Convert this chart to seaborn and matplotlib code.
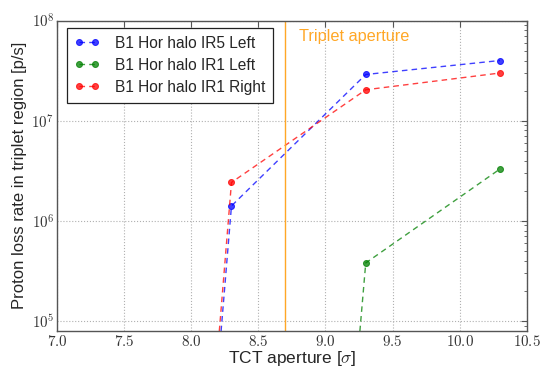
import numpy as np
import pandas as pd
import matplotlib
matplotlib.use("Agg")
import matplotlib.pyplot as plt
import seaborn as sns
from matplotlib.ticker import FixedLocator, FixedFormatter, LogLocator, NullFormatter

# ---- data ----
x_ir5_left = [7.3, 8.3, 9.3, 10.3]
y_ir5_left = [1e-10, 1.41e6, 2.9e7, 4.0e7]
x_ir1_left = [7.3, 8.3, 9.3, 10.3]
y_ir1_left = [1e-10, 1e-10, 3.8e5, 3.3e6]
x_ir1_right = [7.3, 8.3, 9.3, 10.3]
y_ir1_right = [1e-10, 2.42e6, 2.04e7, 3.0e7]
series_names = ["B1 Hor halo IR5 Left", "B1 Hor halo IR1 Left", "B1 Hor halo IR1 Right"]
series_colors = ["#0000ff", "#008000", "#ff0000"]
triplet_aperture = 8.7
x_ticks = [7.0, 7.5, 8.0, 8.5, 9.0, 9.5, 10.0, 10.5]
x_tick_labels = ["$7.0$", "$7.5$", "$8.0$", "$8.5$", "$9.0$", "$9.5$", "$10.0$", "$10.5$"]
y_ticks = [1e5, 1e6, 1e7, 1e8]
y_tick_labels = ["$10^{5}$", "$10^{6}$", "$10^{7}$", "$10^{8}$"]

sns.set_style("white")
plt.rcParams["font.family"] = ["Liberation Sans", "DejaVu Sans"]
plt.rcParams["mathtext.fontset"] = "cm"

fig = plt.figure(figsize=(5.4, 3.69), dpi=100)
ax = fig.add_axes([0.1054, 0.103, 0.8703, 0.841])
ax.set_yscale("log")

xs = [x_ir5_left, x_ir1_left, x_ir1_right]
ys = [y_ir5_left, y_ir1_left, y_ir1_right]
for name, c, xv, yv in zip(series_names, series_colors, xs, ys):
    df = pd.DataFrame({"x": xv, "y": yv})
    sns.lineplot(data=df, x="x", y="y", ax=ax, color=c, lw=1.0,
                 dashes=False, errorbar=None, label=name)
    line = ax.get_lines()[-1]
    line.set_dashes((4, 3))
    line.set_alpha(0.75)
    line.set_marker("o")
    line.set_markersize(4.3)
    line.set_markerfacecolor(c)
    line.set_markeredgecolor(c)

ax.axvline(triplet_aperture, color="#ffa726", lw=1.0)
ax.text(8.80, 6.9e7, "Triplet aperture", color="#ffa726",
        fontsize=11.7, va="center", ha="left")

ax.set_xlim(7.0, 10.5)
ax.set_ylim(10**4.9, 1e8)
ax.xaxis.set_major_locator(FixedLocator(x_ticks))
ax.xaxis.set_major_formatter(FixedFormatter(x_tick_labels))
ax.yaxis.set_major_locator(FixedLocator(y_ticks))
ax.yaxis.set_major_formatter(FixedFormatter(y_tick_labels))
ax.yaxis.set_minor_locator(LogLocator(base=10, subs=np.arange(2, 10)))
ax.yaxis.set_minor_formatter(NullFormatter())

ax.tick_params(which="both", direction="in", top=True, right=True, labelsize=10.8,
               colors="#555555", labelcolor="#333333", pad=2)
ax.tick_params(which="major", length=4, width=0.8)
ax.tick_params(which="minor", length=2, width=0.6)
ax.grid(True, which="major", linestyle=":", color="#b0b0b0", lw=0.8)
for s in ax.spines.values():
    s.set_color("#555555")
    s.set_linewidth(1.0)

ax.set_xlabel("TCT aperture [$\\sigma$]", fontsize=12.5, labelpad=0)
ax.set_ylabel("Proton loss rate in triplet region [p/s]", fontsize=12, labelpad=3)

leg = ax.legend(loc="upper left", numpoints=2, fontsize=11.2, fancybox=False,
                frameon=True, edgecolor="#222222", framealpha=1, handlelength=1.6,
                borderpad=0.5, labelspacing=0.45, handletextpad=1.0,
                borderaxespad=0, bbox_to_anchor=(0.021, 0.976))
leg.get_frame().set_linewidth(0.9)
for h in leg.get_lines():
    h.set_alpha(0.75)

fig.savefig("out.png", dpi=100)
